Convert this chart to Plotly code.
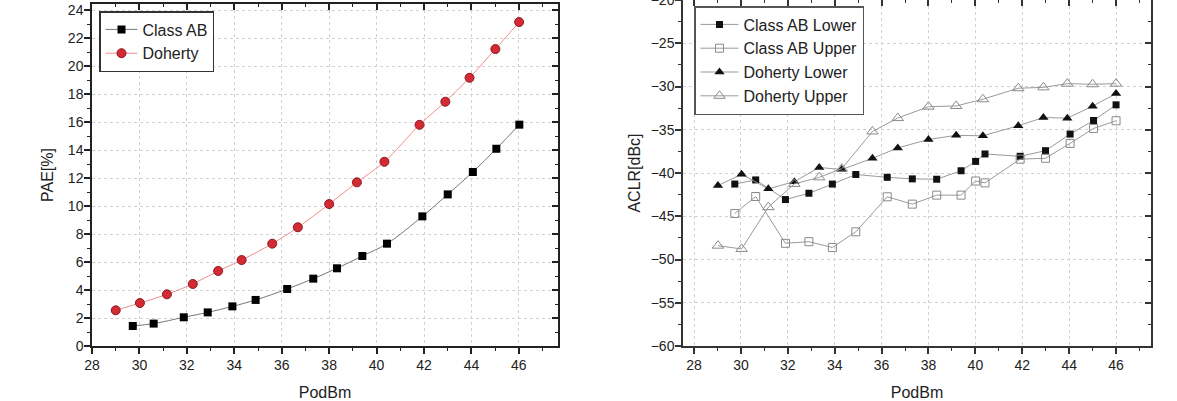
import plotly.graph_objects as go

# ---------------- data ----------------
# Left chart: PAE [%] vs Pout [dBm]
pae_ab_x = [29.72, 30.6, 31.87, 32.88, 33.92, 34.9, 36.23, 37.33, 38.33, 39.4, 40.44, 41.93, 43.0, 44.06, 45.05, 46.02]
pae_ab = [1.43, 1.6, 2.05, 2.4, 2.83, 3.29, 4.07, 4.81, 5.55, 6.43, 7.31, 9.26, 10.83, 12.43, 14.09, 15.81]
pae_doh_x = [29.0, 30.02, 31.16, 32.25, 33.32, 34.31, 35.6, 36.68, 38.0, 39.17, 40.33, 41.81, 42.9, 43.92, 45.01, 46.01]
pae_doh = [2.55, 3.07, 3.69, 4.43, 5.36, 6.14, 7.31, 8.48, 10.14, 11.69, 13.16, 15.8, 17.45, 19.16, 21.21, 23.14]

# Right chart: ACLR [dBc] vs Pout [dBm]
aclr_ab_x = [29.74, 30.63, 31.9, 32.9, 33.9, 34.9, 36.24, 37.31, 38.35, 39.39, 40.01, 40.41, 41.91, 42.99, 44.04, 45.04, 46.0]
aclr_ab_lower = [-41.28, -40.8, -43.07, -42.34, -41.28, -40.17, -40.5, -40.68, -40.72, -39.74, -38.66, -37.8, -38.07, -37.42, -35.5, -33.93, -32.12]
aclr_ab_upper = [-44.68, -42.72, -48.13, -47.94, -48.61, -46.8, -42.75, -43.6, -42.56, -42.56, -40.93, -41.14, -38.4, -38.3, -36.58, -34.85, -33.96]
aclr_doh_x = [29.02, 30.03, 31.17, 32.28, 33.34, 34.3, 35.61, 36.69, 38.0, 39.18, 40.32, 41.83, 42.9, 43.92, 45.0, 46.0]
aclr_doh_lower = [-41.45, -40.15, -41.83, -41.0, -39.36, -39.6, -38.3, -37.1, -36.12, -35.65, -35.7, -34.54, -33.58, -33.66, -32.27, -30.82]
aclr_doh_upper = [-48.4, -48.78, -43.95, -41.26, -40.5, -39.5, -35.2, -33.65, -32.33, -32.25, -31.47, -30.2, -30.1, -29.67, -29.74, -29.67]

x_label = "PodBm"
pae_label = "PAE[%]"
aclr_label = "ACLR[dBc]"

# ---------------- figure ----------------
W, H = 1177, 401
FONT = "Liberation Sans, Arial, sans-serif"
TXT = "#222222"

fig = go.Figure()

# Left chart traces
fig.add_trace(go.Scatter(
    x=pae_ab_x, y=pae_ab, name="Class AB", mode="lines+markers",
    line=dict(color="#777777", width=1, shape="spline"),
    marker=dict(symbol="square", size=8, color="#000000"),
    xaxis="x", yaxis="y", legend="legend"))
fig.add_trace(go.Scatter(
    x=pae_doh_x, y=pae_doh, name="Doherty", mode="lines+markers",
    line=dict(color="#f08c8c", width=1, shape="spline"),
    marker=dict(symbol="circle", size=9, color="#d42a34", line=dict(color="#8a1a24", width=1)),
    xaxis="x", yaxis="y", legend="legend"))

# Right chart traces
GRAY = "#9a9a9a"
fig.add_trace(go.Scatter(
    x=aclr_ab_x, y=aclr_ab_lower, name="Class AB Lower", mode="lines+markers",
    line=dict(color=GRAY, width=1),
    marker=dict(symbol="square", size=7, color="#111111"),
    xaxis="x2", yaxis="y2", legend="legend2"))
fig.add_trace(go.Scatter(
    x=aclr_ab_x, y=aclr_ab_upper, name="Class AB Upper", mode="lines+markers",
    line=dict(color=GRAY, width=1),
    marker=dict(symbol="square-open", size=8, color="#8a8a8a", line=dict(width=1)),
    xaxis="x2", yaxis="y2", legend="legend2"))
fig.add_trace(go.Scatter(
    x=aclr_doh_x, y=aclr_doh_lower, name="Doherty Lower", mode="lines+markers",
    line=dict(color=GRAY, width=1),
    marker=dict(symbol="triangle-up", size=9, color="#111111"),
    xaxis="x2", yaxis="y2", legend="legend2"))
fig.add_trace(go.Scatter(
    x=aclr_doh_x, y=aclr_doh_upper, name="Doherty Upper", mode="lines+markers",
    line=dict(color=GRAY, width=1),
    marker=dict(symbol="triangle-up-open", size=10, color="#8a8a8a", line=dict(width=1)),
    xaxis="x2", yaxis="y2", legend="legend2"))

# invisible traces so the mirrored (inward tick) axes are drawn
for xa, ya in [("x3", "y"), ("x", "y3"), ("x4", "y2"), ("x2", "y4")]:
    fig.add_trace(go.Scatter(x=[None], y=[None], xaxis=xa, yaxis=ya,
                             showlegend=False, hoverinfo="skip"))

PLOT_H = 346  # px of plotting area (top margin 0, bottom margin 55)

def main_axis(rng, dtick, minor_dtick, domain=None, anchor=None, title=None,
              standoff=10, lc=TXT, label_shift=0):
    d = dict(
        range=rng, dtick=dtick, tick0=0, ticks="outside", ticklen=6, tickwidth=1.5,
        tickcolor=lc, showline=True, linewidth=1.5, linecolor=lc, mirror=True,
        showgrid=True, gridcolor="#d2d2d2", griddash="dot", gridwidth=1,
        zeroline=False, tickfont=dict(family=FONT, size=14, color=TXT),
        ticklabelstandoff=label_shift, ticklabeloverflow="allow",
        minor=dict(dtick=minor_dtick, ticks="outside", ticklen=3, tickwidth=1.2,
                   tickcolor=lc, showgrid=False),
        automargin=False, fixedrange=True,
    )
    if domain is not None:
        d["domain"] = domain
    if anchor is not None:
        d["anchor"] = anchor
    if title is not None:
        d["title"] = dict(text=title, font=dict(family=FONT, size=16, color=TXT), standoff=standoff)
    return d

def mirror_axis(rng, dtick, minor_dtick, overlaying, side, anchor, lc=TXT):
    return dict(
        range=rng, dtick=dtick, tick0=0, ticks="inside", ticklen=6, tickwidth=1.5,
        tickcolor=lc, showline=False, showticklabels=False, showgrid=False,
        zeroline=False, overlaying=overlaying, side=side, anchor=anchor,
        minor=dict(dtick=minor_dtick, ticks="inside", ticklen=3, tickwidth=1.2,
                   tickcolor=lc, showgrid=False),
        automargin=False, fixedrange=True,
    )

xr1 = [28.0, 47.65]
yr1 = [0, 24.43]
xr2 = [27.53, 47.49]
yr2 = [-60, -20]

fig.update_layout(
    width=W, height=H,
    margin=dict(l=0, r=0, t=0, b=55),
    paper_bgcolor="white", plot_bgcolor="white",
    font=dict(family=FONT, color=TXT),
    xaxis=main_axis(xr1, 2, 1, domain=[92 / W, 558 / W], anchor="y", title=x_label,
                    standoff=15, label_shift=-1),
    yaxis=main_axis(yr1, 2, 1, domain=[0, (PLOT_H - 4) / PLOT_H], anchor="x", title=pae_label,
                    standoff=10, label_shift=-2),
    xaxis2=main_axis(xr2, 2, 1, domain=[683 / W, 1151 / W], anchor="y2", title=x_label,
                     standoff=15, lc="#333333", label_shift=-1),
    yaxis2=main_axis(yr2, 5, 2.5, domain=[0, 1], anchor="x2", title=aclr_label,
                     standoff=6, lc="#333333", label_shift=-2),
    xaxis3=mirror_axis(xr1, 2, 1, "x", "top", "y"),
    yaxis3=mirror_axis(yr1, 2, 1, "y", "right", "x"),
    xaxis4=mirror_axis(xr2, 2, 1, "x2", "top", "y2", lc="#333333"),
    yaxis4=mirror_axis(yr2, 5, 2.5, "y2", "right", "x2", lc="#333333"),
    legend=dict(
        x=99 / W, y=(PLOT_H - 11) / PLOT_H, xanchor="left", yanchor="top",
        bgcolor="white", bordercolor="#333333", borderwidth=1.5,
        font=dict(family=FONT, size=16, color=TXT), itemwidth=32, tracegroupgap=0,
    ),
    legend2=dict(
        x=694 / W, y=(PLOT_H - 6) / PLOT_H, xanchor="left", yanchor="top",
        bgcolor="white", bordercolor="#555555", borderwidth=1.5,
        font=dict(family=FONT, size=16, color=TXT), itemwidth=38, tracegroupgap=0,
    ),
    showlegend=True,
)

fig.write_html(
    "out.html",
    config={"displayModeBar": False},
    post_script="document.body.style.margin='0';document.body.style.padding='0';",
)
